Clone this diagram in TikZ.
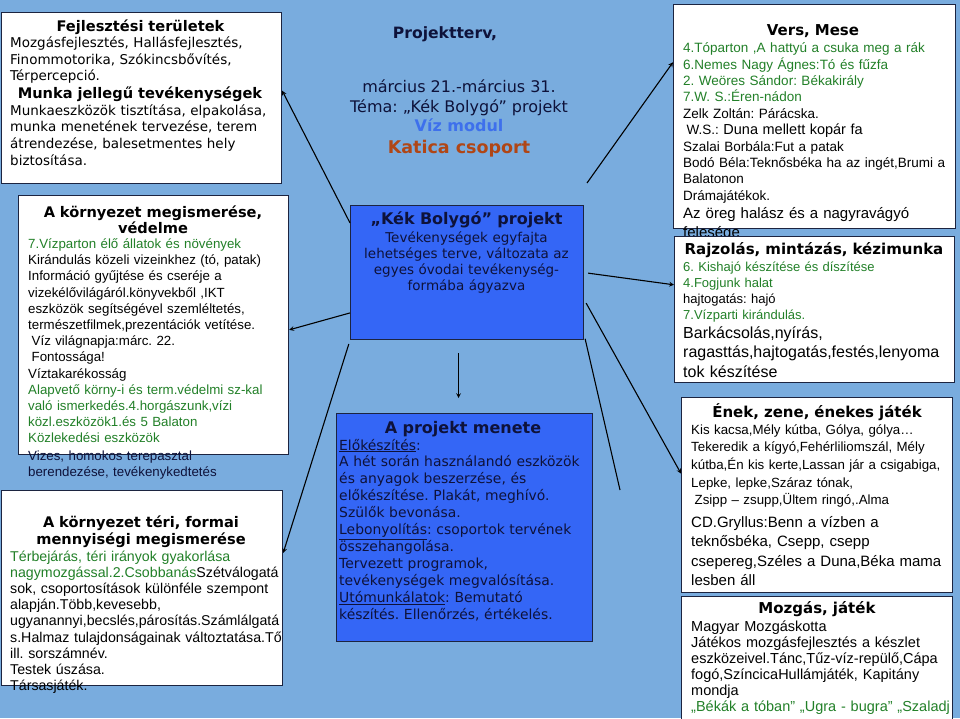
\documentclass[tikz,border=0pt]{standalone}
\usepackage{fontspec}
\setmainfont{DejaVu Sans}
\newfontfamily\arialfont{Liberation Sans}
\frenchspacing
\definecolor{bgblue}{RGB}{121,172,222}
\definecolor{boxblue}{RGB}{52,102,246}
\definecolor{frame}{RGB}{28,36,64}
\definecolor{leaf}{RGB}{34,128,40}
\definecolor{ink}{RGB}{14,18,58}
\definecolor{rust}{RGB}{176,70,22}
\definecolor{modblue}{RGB}{62,112,236}

\begin{document}
\begin{tikzpicture}[>=stealth, x=1pt, y=-1pt]
  \tikzset{box/.style={draw=frame, fill=white, line width=1.2pt, inner sep=0pt, anchor=north west},
           bluebox/.style={box, fill=boxblue},
           head/.style={font=\bfseries\fontsize{14.6}{16.5}\selectfont, anchor=base, inner sep=0pt, align=center, text width=270pt},
           txt/.style={anchor=base west, inner sep=0pt, align=left, text width=300pt},
           link/.style={->, line width=1.1pt}}
  \fill[bgblue] (0,0) rectangle (960,718);
  \useasboundingbox (0,0) rectangle (960,718);

  % left column
  \node[box, minimum width=280pt, minimum height=171pt] (fejl) at (1,12) {};
  \node[head] (fejlhead) at (140.5,31) {Fejlesztési területek};
  \node[txt, font=\fontsize{13.5}{16.8}\selectfont] (fejltxt) at (10,47.3)
    {Mozgásfejlesztés, Hallásfejlesztés,\\Finommotorika, Szókincsbővítés,\\Térpercepció.};
  \node[head] (munkahead) at (140,98.3) {Munka jellegű tevékenységek};
  \node[txt, font=\fontsize{13.5}{16.8}\selectfont] (munkatxt) at (10,115)
    {Munkaeszközök tisztítása, elpakolása,\\munka menetének tervezése, terem\\átrendezése, balesetmentes hely\\biztosítása.};

  \node[box, minimum width=270pt, minimum height=259pt] (korny) at (18,195) {};
  \node[head, font=\bfseries\fontsize{14.6}{16}\selectfont] (kornyhead) at (153,217) {A környezet megismerése,\\védelme};
  \node[txt, font=\arialfont\fontsize{13.3}{16.2}\selectfont] (kornytxt) at (28,248.5)
    {\textcolor{leaf}{7.Vízparton élő állatok és növények}\\
     Kirándulás közeli vizeinkhez (tó, patak)\\
     Információ gyűjtése és cseréje a\\
     vizekélővilágáról.könyvekből ,IKT\\
     eszközök segítségével szemléltetés,\\
     természetfilmek,prezentációk vetítése.\\
     \hspace*{3.5pt}Víz világnapja:márc. 22.\\
     \hspace*{3.5pt}Fontossága!\\
     Víztakarékosság\\
     \textcolor{leaf}{Alapvető körny-i és term.védelmi sz-kal}\\
     \textcolor{leaf}{való ismerkedés.4.horgászunk,vízi}\\
     \textcolor{leaf}{közl.eszközök1.és 5 Balaton}\\
     \textcolor{leaf}{Közlekedési eszközök}};
  \node[txt, text=ink, font=\arialfont\fontsize{13.3}{16.2}\selectfont] (terepasztal) at (28,460.5)
    {Vizes, homokos terepasztal\\berendezése, tevékenykedtetés};

  \node[box, minimum width=281pt, minimum height=195pt] (teri) at (1,490) {};
  \node[head, font=\bfseries\fontsize{14.6}{17}\selectfont] (terihead) at (141,527) {A környezet téri, formai\\mennyiségi megismerése};
  \node[txt, font=\arialfont\fontsize{14.2}{16.2}\selectfont] (teritxt) at (10,561)
    {\textcolor{leaf}{Térbejárás, téri irányok gyakorlása}\\
     \textcolor{leaf}{nagymozgással.2.Csobbanás}Szétválogatá\\
     sok, csoportosítások különféle szempont\\
     alapján.Több,kevesebb,\\
     ugyanannyi,becslés,párosítás.Számlálgatá\\
     s.Halmaz tulajdonságainak változtatása.Tő\\
     ill. sorszámnév.\\
     Testek úszása.\\
     Társasjáték.};

  % middle column
  \node[anchor=base, text=ink, font=\bfseries\fontsize{15.6}{18}\selectfont] (proj) at (445,38) {Projektterv,};
  \node[anchor=base, text=ink, font=\fontsize{16}{19}\selectfont] (datum) at (459,92) {március 21.-március 31.};
  \node[anchor=base, text=ink, font=\fontsize{16}{19}\selectfont] (tema) at (459,112) {Téma: „Kék Bolygó” projekt};
  \node[anchor=base, text=modblue, font=\bfseries\fontsize{16}{19}\selectfont] (modul) at (459,131) {Víz modul};
  \node[anchor=base, text=rust, font=\bfseries\fontsize{17.5}{20}\selectfont] (csoport) at (459,153) {Katica csoport};

  \node[bluebox, minimum width=233pt, minimum height=134pt] (kek) at (350,205) {};
  \node[head, text=ink, font=\bfseries\fontsize{16}{19}\selectfont] (kekhead) at (466.5,224) {„Kék Bolygó” projekt};
  \node[anchor=base, inner sep=0pt, align=center, text width=230pt, text=ink, font=\fontsize{13.5}{16}\selectfont] (kektxt) at (466.5,242)
    {Tevékenységek egyfajta\\lehetséges terve, változata az\\egyes óvodai tevékenység-\\formába ágyazva};

  \node[bluebox, minimum width=256pt, minimum height=228pt] (menete) at (336,413) {};
  \node[head, text=ink, font=\bfseries\fontsize{16}{19}\selectfont] (menetehead) at (463,433) {A projekt menete};
  \node[txt, text=ink, font=\fontsize{13.9}{16.9}\selectfont] (menetetxt) at (339,450)
    {\smash{\underline{Előkészítés}}:\\
     A hét során használandó eszközök\\
     és anyagok beszerzése, és\\
     előkészítése. Plakát, meghívó.\\
     Szülők bevonása.\\
     \smash{\underline{Lebonyolítás}}: csoportok tervének\\
     összehangolása.\\
     Tervezett programok,\\
     tevékenységek megvalósítása.\\
     \smash{\underline{Utómunkálatok}}: Bemutató\\
     készítés. Ellenőrzés, értékelés.};

  % right column
  \node[box, minimum width=282pt, minimum height=224pt] (vers) at (673,4) {};
  \node[head, font=\bfseries\fontsize{15}{18}\selectfont] (globalhead) at (813,35) {Vers, Mese};
  \node[txt, font=\arialfont\fontsize{13.5}{16.4}\selectfont] (verstxt) at (683,52.7)
    {\textcolor{leaf}{4.Tóparton ,A hattyú a csuka meg a rák}\\
     \textcolor{leaf}{6.Nemes Nagy Ágnes:Tó és fűzfa}\\
     \textcolor{leaf}{2. Weöres Sándor: Békakirály}\\
     \textcolor{leaf}{7.W. S.:Éren-nádon}\\
     Zelk Zoltán: Párácska.\\
     \hspace*{3.5pt}W.S.: {\fontsize{14.5}{16.4}\selectfont Duna mellett kopár fa}\\
     Szalai Borbála:Fut a patak\\
     Bodó Béla:Teknősbéka ha az ingét,Brumi a\\
     Balatonon\\
     Drámajátékok.};
  \node[txt, font=\arialfont\fontsize{15}{19.5}\selectfont] (oreg) at (683,218.3)
    {Az öreg halász és a nagyravágyó\\felesége};

  \node[box, minimum width=280pt, minimum height=146pt] (rajz) at (674,236) {};
  \node[head, font=\bfseries\fontsize{15}{18}\selectfont] (rajzhead) at (814,254) {Rajzolás, mintázás, kézimunka};
  \node[txt, font=\arialfont\fontsize{13}{16}\selectfont] (rajztxt) at (683,271)
    {\textcolor{leaf}{6. Kishajó készítése és díszítése}\\
     \textcolor{leaf}{4.Fogjunk halat}\\
     hajtogatás: hajó\\
     \textcolor{leaf}{7.Vízparti kirándulás.}};
  \node[txt, font=\arialfont\fontsize{16}{19.5}\selectfont] (barkacs) at (683,338)
    {Barkácsolás,nyírás,\\ragasttás,hajtogatás,festés,lenyoma\\tok készítése};

  \node[box, minimum width=271pt, minimum height=195pt] (enek) at (681,397) {};
  \node[head, font=\bfseries\fontsize{15}{18}\selectfont] (enekhead) at (817,417) {Ének, zene, énekes játék};
  \node[txt, font=\arialfont\fontsize{13.3}{17.7}\selectfont] (enektxt) at (691,434)
    {Kis kacsa,Mély kútba, Gólya, gólya…\\
     Tekeredik a kígyó,Fehérliliomszál, Mély\\
     kútba,Én kis kerte,Lassan jár a csigabiga,\\
     Lepke, lepke,Száraz tónak,\\
     \hspace*{3.5pt}Zsipp – zsupp,Ültem ringó,.Alma};
  \node[txt, font=\arialfont\fontsize{15}{19.6}\selectfont] (gryllus) at (691,527)
    {CD.Gryllus:Benn a vízben a\\teknősbéka, Csepp, csepp\\csepereg,Széles a Duna,Béka mama\\lesben áll};

  \node[box, minimum width=271pt, minimum height=130pt] (mozgas) at (681,596) {};
  \node[head, font=\bfseries\fontsize{15}{18}\selectfont] (mozgashead) at (817,613) {Mozgás, játék};
  \node[txt, font=\arialfont\fontsize{14.5}{16}\selectfont] (mozgastxt) at (691,631)
    {Magyar Mozgáskotta\\
     Játékos mozgásfejlesztés a készlet\\
     eszközeivel.Tánc,Tűz-víz-repülő,Cápa\\
     fogó,SzíncicaHullámjáték, Kapitány\\
     mondja\\
     \textcolor{leaf}{„Békák a tóban” „Ugra - bugra” „Szaladj}};

  % connectors
  \coordinate (versfrom) at (587,183);
  \coordinate (lineend) at (620,490);
  \draw[link] (kek.157) -- (fejl.3);
  \draw[link] (kek.199) -- (korny.-2);
  \draw[link, shorten <=4pt] (kek.south west) -- (teri.14);
  \draw[link] (versfrom) -- (vers.159);
  \draw[link, shorten <=4pt] (kek.east) -- (rajz.170);
  \draw[link, shorten <=4pt] (kek.-13) -- (enek.171);
  \draw[line width=1.1pt, shorten <=4pt] (kek.-28) -- (lineend);
  \draw[link, shorten <=13pt, shorten >=15pt] ([xshift=-8.5pt]kek.south) -- ([xshift=-6pt]menete.north);
\end{tikzpicture}
\end{document}
